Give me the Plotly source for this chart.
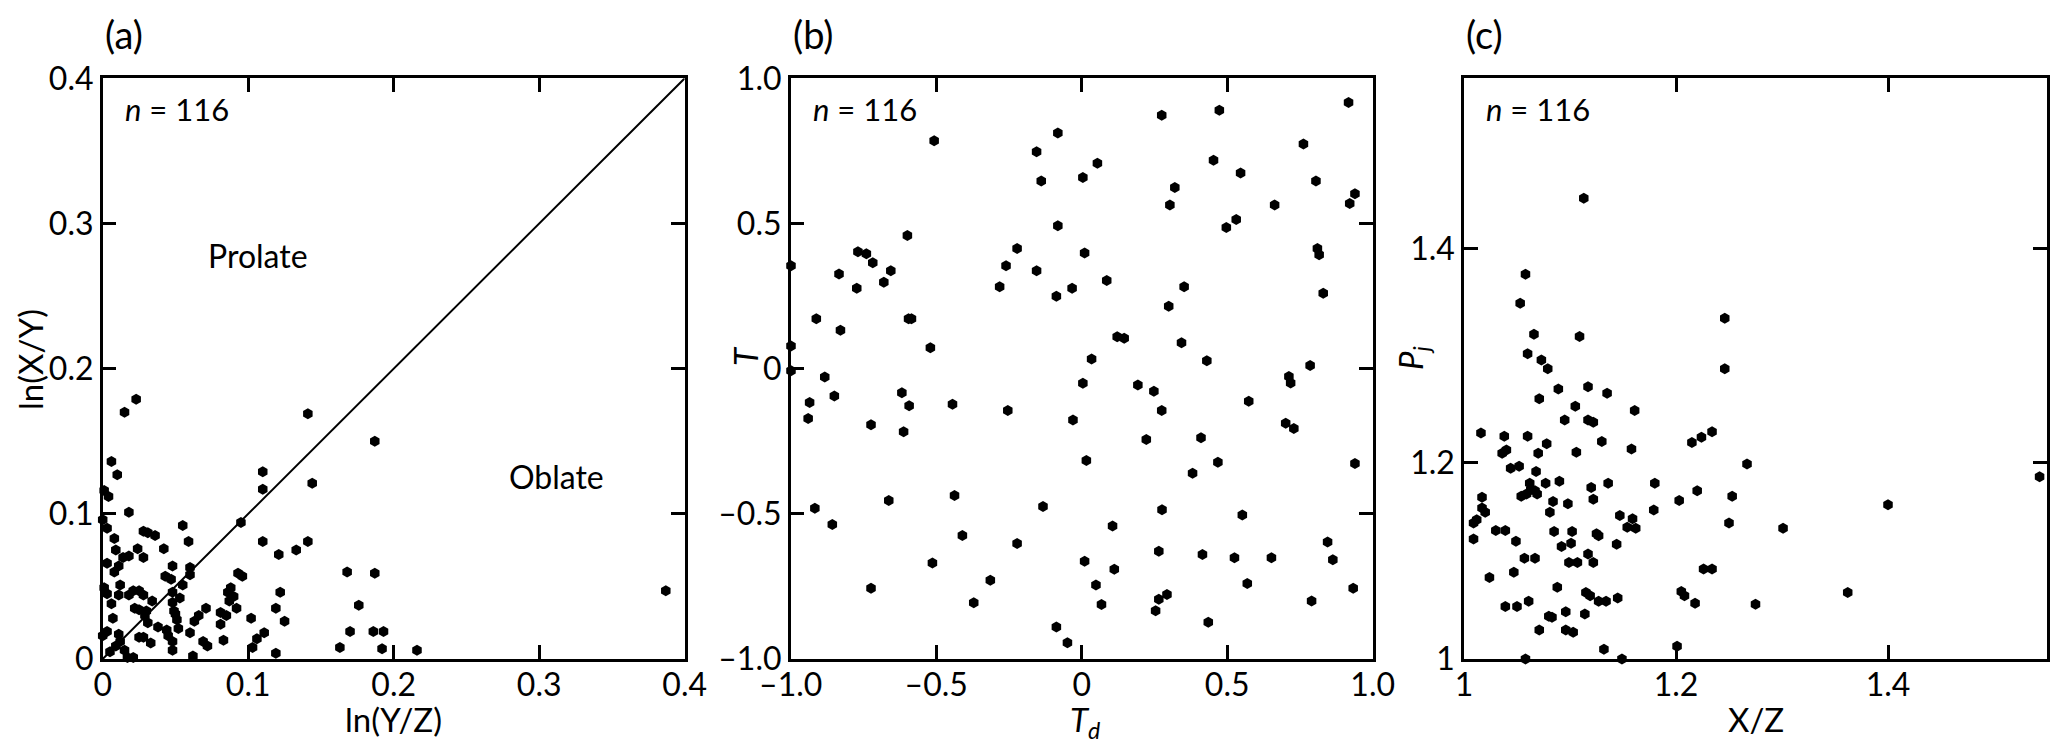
import plotly.graph_objects as go

# ---------------- data ----------------
# (a) Flinn diagram
ln_yz = [0.023, 0.015, 0.141, 0.187, 0.006, 0.010, 0.110, 0.110, 0.144, 0.001,
         0.004, 0.018, 0.095, 0.000, 0.003, 0.055, 0.028, 0.031, 0.036, 0.008,
         0.059, 0.110, 0.141, 0.009, 0.024, 0.042, 0.133, 0.121, 0.014, 0.018,
         0.028, 0.003, 0.011, 0.048, 0.060, 0.008, 0.043, 0.047, 0.060, 0.093,
         0.096, 0.168, 0.187, 0.012, 0.001, 0.055, 0.088, 0.021, 0.025, 0.003,
         0.011, 0.018, 0.028, 0.048, 0.053, 0.086, 0.122, 0.387, 0.006, 0.034,
         0.048, 0.087, 0.022, 0.025, 0.030, 0.049, 0.071, 0.081, 0.085, 0.092,
         0.119, 0.176, 0.029, 0.050, 0.007, 0.031, 0.051, 0.063, 0.081, 0.102,
         0.125, 0.044, 0.052, 0.003, 0.000, 0.011, 0.025, 0.028, 0.060, 0.111,
         0.106, 0.170, 0.186, 0.193, 0.033, 0.048, 0.069, 0.083, 0.072, 0.009,
         0.012, 0.048, 0.103, 0.163, 0.192, 0.216, 0.119, 0.062, 0.017, 0.021,
         0.005, 0.038, 0.066, 0.090, 0.015, 0.045]
ln_xy = [0.179, 0.170, 0.169, 0.150, 0.136, 0.127, 0.129, 0.117, 0.121, 0.116,
         0.112, 0.101, 0.094, 0.096, 0.090, 0.092, 0.088, 0.087, 0.085, 0.083,
         0.081, 0.081, 0.081, 0.075, 0.076, 0.076, 0.075, 0.072, 0.070, 0.071,
         0.070, 0.066, 0.064, 0.064, 0.063, 0.060, 0.057, 0.055, 0.058, 0.059,
         0.057, 0.060, 0.059, 0.051, 0.049, 0.051, 0.049, 0.047, 0.047, 0.045,
         0.044, 0.044, 0.044, 0.046, 0.042, 0.046, 0.046, 0.047, 0.038, 0.040,
         0.039, 0.040, 0.035, 0.034, 0.033, 0.033, 0.035, 0.032, 0.030, 0.035,
         0.035, 0.037, 0.030, 0.031, 0.028, 0.025, 0.027, 0.026, 0.024, 0.028,
         0.026, 0.020, 0.021, 0.019, 0.016, 0.017, 0.015, 0.015, 0.018, 0.018,
         0.014, 0.019, 0.019, 0.019, 0.011, 0.012, 0.012, 0.013, 0.009, 0.009,
         0.012, 0.006, 0.008, 0.008, 0.007, 0.006, 0.004, 0.002, 0.001, 0.001,
         0.005, 0.022, 0.030, 0.043, 0.006, 0.016]
one_to_one = [0.0, 0.4]

# (b) Td vs T
td = [0.917, 0.275, 0.473, -0.507, -0.082, -0.155, 0.762, 0.453, 0.054, 0.546,
      0.004, -0.139, 0.805, 0.320, 0.939, 0.303, 0.663, 0.921, 0.531, 0.497,
      -0.082, -0.599, -0.222, -0.769, -0.740, 0.010, 0.810, 0.816, -0.718, -0.999,
      -0.260, -0.656, -0.155, -0.834, 0.086, -0.680, -0.773, -0.282, -0.033, 0.352,
      0.830, -0.087, 0.299, -0.912, -0.595, -0.585, -0.829, 0.122, 0.146, 0.343,
      -0.999, -0.520, 0.034, 0.430, 0.785, -0.999, -0.883, 0.712, 0.718, 0.004,
      0.193, 0.248, -0.618, -0.850, -0.935, 0.574, -0.444, -0.593, -0.254, 0.275,
      -0.940, -0.030, -0.724, 0.701, 0.729, -0.612, 0.222, 0.410, 0.016, 0.468,
      0.939, 0.381, -0.663, -0.437, -0.917, -0.133, 0.276, 0.552, -0.857, 0.106,
      -0.410, -0.222, 0.845, 0.265, 0.415, 0.525, 0.652, -0.513, 0.010, 0.863,
      0.112, -0.314, 0.049, 0.569, -0.724, 0.933, 0.293, 0.265, -0.371, 0.068,
      0.790, 0.254, 0.435, -0.087, -0.049]
t_shape = [0.917, 0.873, 0.890, 0.785, 0.812, 0.747, 0.774, 0.718, 0.707, 0.674,
           0.658, 0.646, 0.646, 0.624, 0.602, 0.564, 0.564, 0.569, 0.514, 0.486,
           0.492, 0.459, 0.414, 0.403, 0.396, 0.398, 0.414, 0.392, 0.365, 0.354,
           0.354, 0.337, 0.337, 0.326, 0.304, 0.298, 0.277, 0.282, 0.277, 0.282,
           0.260, 0.249, 0.215, 0.172, 0.172, 0.172, 0.132, 0.110, 0.105, 0.089,
           0.078, 0.072, 0.033, 0.027, 0.011, -0.007, -0.029, -0.027, -0.049, -0.050,
           -0.056, -0.078, -0.083, -0.094, -0.117, -0.112, -0.123, -0.128, -0.144, -0.144,
           -0.172, -0.177, -0.193, -0.188, -0.206, -0.217, -0.244, -0.238, -0.316, -0.322,
           -0.327, -0.360, -0.454, -0.437, -0.481, -0.475, -0.486, -0.504, -0.537, -0.542,
           -0.575, -0.602, -0.597, -0.629, -0.640, -0.651, -0.651, -0.669, -0.663, -0.658,
           -0.691, -0.729, -0.745, -0.740, -0.756, -0.756, -0.778, -0.794, -0.806, -0.812,
           -0.800, -0.834, -0.873, -0.890, -0.944]

# (c) X/Z vs Pj
xz = [1.113, 1.058, 1.053, 1.246, 1.066, 1.109, 1.060, 1.073, 1.079, 1.246,
      1.089, 1.117, 1.135, 1.071, 1.161, 1.105, 1.095, 1.117, 1.122, 1.234,
      1.016, 1.038, 1.060, 1.224, 1.078, 1.130, 1.215, 1.036, 1.040, 1.070,
      1.106, 1.158, 1.267, 1.044, 1.052, 1.068, 1.543, 1.090, 1.077, 1.062,
      1.136, 1.180, 1.120, 1.063, 1.067, 1.069, 1.054, 1.059, 1.017, 1.220,
      1.253, 1.122, 1.084, 1.098, 1.203, 1.017, 1.020, 1.081, 1.179, 1.400,
      1.147, 1.009, 1.012, 1.250, 1.159, 1.154, 1.162, 1.030, 1.039, 1.085,
      1.102, 1.125, 1.127, 1.301, 1.009, 1.049, 1.101, 1.092, 1.144, 1.057,
      1.067, 1.117, 1.099, 1.107, 1.122, 1.226, 1.234, 1.047, 1.024, 1.088,
      1.115, 1.119, 1.205, 1.208, 1.362, 1.061, 1.127, 1.134, 1.145, 1.218,
      1.275, 1.039, 1.050, 1.096, 1.114, 1.080, 1.083, 1.071, 1.096, 1.103,
      1.132, 1.201, 1.058, 1.149]
pj = [1.447, 1.376, 1.349, 1.335, 1.320, 1.318, 1.302, 1.296, 1.288, 1.288,
      1.269, 1.271, 1.265, 1.260, 1.249, 1.253, 1.240, 1.240, 1.238, 1.229,
      1.228, 1.225, 1.225, 1.224, 1.218, 1.220, 1.219, 1.209, 1.212, 1.209,
      1.210, 1.213, 1.199, 1.195, 1.197, 1.192, 1.187, 1.183, 1.181, 1.181,
      1.181, 1.181, 1.177, 1.175, 1.174, 1.171, 1.169, 1.171, 1.168, 1.174,
      1.169, 1.166, 1.164, 1.162, 1.165, 1.158, 1.154, 1.154, 1.156, 1.161,
      1.151, 1.144, 1.147, 1.144, 1.148, 1.140, 1.139, 1.137, 1.137, 1.136,
      1.136, 1.134, 1.132, 1.139, 1.129, 1.127, 1.125, 1.122, 1.124, 1.111,
      1.111, 1.115, 1.107, 1.107, 1.107, 1.101, 1.101, 1.098, 1.093, 1.084,
      1.079, 1.076, 1.080, 1.076, 1.079, 1.071, 1.071, 1.071, 1.074, 1.069,
      1.068, 1.066, 1.066, 1.061, 1.059, 1.057, 1.056, 1.044, 1.044, 1.042,
      1.026, 1.029, 1.017, 1.017]

# tick labels
a_ticks = [0, 0.1, 0.2, 0.3, 0.4]
a_ticktext = ["0", "0.1", "0.2", "0.3", "0.4"]
b_ticks = [-1, -0.5, 0, 0.5, 1]
b_ticktext = ["\u20131.0", "\u20130.5", "0", "0.5", "1.0"]
c_xticks = [1.0, 1.2, 1.4]
c_xticktext = ["1", "1.2", "1.4"]
c_yticks = [1.017, 1.2, 1.4]
c_yticktext = ["1", "1.2", "1.4"]

# ---------------- figure ----------------
W, H = 2067, 748
FONT = "Lato"


def px(x):
    return x / W


def py(y):
    return 1 - y / H


dom_y = [py(659), py(78.3)]
dom_a = [px(102.7), px(684.7)]
dom_b = [px(790.7), px(1372.7)]
dom_c = [px(1464), px(2047)]

marker = dict(symbol="hexagon", size=11, color="black", line=dict(width=0))

fig = go.Figure()
fig.add_trace(go.Scatter(x=one_to_one, y=one_to_one, mode="lines",
                         line=dict(color="black", width=2), xaxis="x", yaxis="y",
                         showlegend=False, hoverinfo="skip"))
fig.add_trace(go.Scatter(x=ln_yz, y=ln_xy, mode="markers", marker=marker,
                         xaxis="x", yaxis="y", cliponaxis=False, showlegend=False))
fig.add_trace(go.Scatter(x=td, y=t_shape, mode="markers", marker=marker,
                         xaxis="x2", yaxis="y2", cliponaxis=False, showlegend=False))
fig.add_trace(go.Scatter(x=xz, y=pj, mode="markers", marker=marker,
                         xaxis="x3", yaxis="y3", cliponaxis=False, showlegend=False))

common = dict(showline=True, linecolor="black", linewidth=2.5, mirror="ticks",
              ticks="inside", ticklen=14, tickwidth=2.5, tickcolor="black",
              showgrid=False, zeroline=False, automargin=False,
              tickfont=dict(family=FONT, size=32, color="black"))
xcommon = dict(common, ticklabelstandoff=-4)

fig.update_layout(
    template="none",
    width=W, height=H, margin=dict(l=0, r=0, t=0, b=0, pad=0), autosize=False,
    paper_bgcolor="white", plot_bgcolor="white",
    xaxis=dict(domain=dom_a, anchor="y", range=[0, 0.4], tickvals=a_ticks,
               ticktext=a_ticktext, **xcommon),
    yaxis=dict(domain=dom_y, anchor="x", range=[0, 0.4], tickvals=a_ticks,
               ticktext=a_ticktext, **common),
    xaxis2=dict(domain=dom_b, anchor="y2", range=[-1, 1], tickvals=b_ticks,
                ticktext=b_ticktext, **xcommon),
    yaxis2=dict(domain=dom_y, anchor="x2", range=[-1, 1], tickvals=b_ticks,
                ticktext=b_ticktext, **common),
    xaxis3=dict(domain=dom_c, anchor="y3", range=[1.0, 1.55], tickvals=c_xticks,
                ticktext=c_xticktext, **xcommon),
    yaxis3=dict(domain=dom_y, anchor="x3", range=[1.017, 1.559], tickvals=c_yticks,
                ticktext=c_yticktext, **common),
)

ann = []


def paper_text(text, x, y, size=33, xanchor="center", yanchor="middle", angle=0):
    ann.append(dict(text=text, x=px(x), y=py(y), xref="paper", yref="paper",
                    xanchor=xanchor, yanchor=yanchor, showarrow=False, textangle=angle,
                    font=dict(family=FONT, size=size, color="black")))


# panel letters
paper_text("(a)", 102.7, 34, size=38, xanchor="left")
paper_text("(b)", 790.7, 34, size=38, xanchor="left")
paper_text("(c)", 1464, 34, size=38, xanchor="left")
# n labels
for left in (102.7, 790.7, 1464):
    paper_text("<i>n</i> = 116", left + 20, 109, size=31, xanchor="left")
# axis titles
paper_text("ln(Y/Z)", 393, 719)
paper_text("<i>T</i><sub><i>d</i></sub>", 1085, 721)
paper_text("X/Z", 1756, 719)
paper_text("ln(X/Y)", 30, 360, angle=-90)
paper_text("<i>T</i>", 745, 356, angle=-90)
paper_text("<i>P<sub>j</sub></i>", 1412, 358, angle=-90)

# region labels in panel (a)
ann.append(dict(text="Prolate", x=0.107, y=0.278, xref="x", yref="y", showarrow=False,
                font=dict(family=FONT, size=32, color="black")))
ann.append(dict(text="Oblate", x=0.312, y=0.126, xref="x", yref="y", showarrow=False,
                font=dict(family=FONT, size=32, color="black")))

fig.update_layout(annotations=ann)

fig.write_html("out.html", config={"displayModeBar": False},
               post_script="document.body.style.margin='0';document.body.style.overflow='hidden';")
